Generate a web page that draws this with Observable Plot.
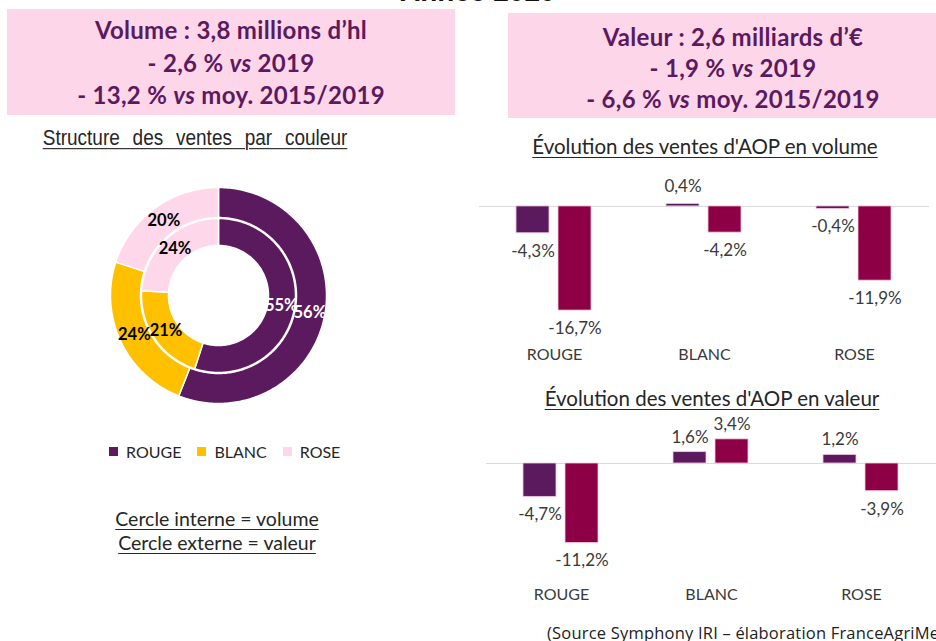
<!DOCTYPE html>
<html>
<head>
<meta charset="utf-8">
<script src="https://cdn.jsdelivr.net/npm/d3@7"></script>
<script src="https://cdn.jsdelivr.net/npm/@observablehq/plot@0.6"></script>
<style>
  html, body { margin: 0; padding: 0; background: #fff; }
  #page { position: relative; width: 936px; height: 641px; overflow: hidden; background: #fff; font-family: Lato, "Open Sans", sans-serif; }
  .abs { position: absolute; }
  .box { background: #FDD6EA; color: #5C1A5E; font-weight: bold; font-size: 24px; letter-spacing: 0.3px; text-align: center; box-sizing: border-box; }
  .box div { position: absolute; left: 0; right: 0; line-height: 24px; }
  .u { text-decoration: underline; text-underline-offset: 3px; text-decoration-thickness: 1px; white-space: nowrap; color: #262626; }
  .center { transform: translateX(-50%); text-align: center; }
</style>
</head>
<body>
<div id="page">
  <div class="abs" id="title" style="left:400px; top:-22px; font-family:'Liberation Sans', Arial, sans-serif; font-weight:bold; font-size:28px; line-height:28px; color:#111; white-space:nowrap;"></div>

  <div class="abs box" id="boxL" style="left:7px; top:9px; width:448px; height:106px;"></div>
  <div class="abs box" id="boxR" style="left:508px; top:13px; width:450px; height:105px;"></div>

  <div class="abs u" id="structTitle" style="left:195px; top:127px; transform:translateX(-50%) scaleY(1.12); font-family:'Liberation Sans', Arial, sans-serif; font-size:19px; word-spacing:7.5px; line-height:22px;"></div>
  <div class="abs" id="donut" style="left:108px; top:185px;"></div>
  <div class="abs" id="legend" style="left:109px; top:435px;"></div>
  <div class="abs u center" id="note1" style="left:217px; top:507px; font-size:19.5px; line-height:24px;"></div>
  <div class="abs u center" id="note2" style="left:217px; top:531px; font-size:19.5px; line-height:24px;"></div>

  <div class="abs u center" id="volTitle" style="left:705px; top:133px; font-size:20.5px; line-height:26px;"></div>
  <div class="abs" id="volChart" style="left:479px; top:170px;"></div>
  <div class="abs u center" id="valTitle" style="left:712px; top:385px; font-size:20.5px; line-height:26px;"></div>
  <div class="abs" id="valChart" style="left:486px; top:415px;"></div>

  <div class="abs" id="source" style="left:547px; top:621px; font-family:'Open Sans', sans-serif; font-size:16.5px; letter-spacing:0.2px; line-height:24px; color:#222; white-space:nowrap;"></div>
</div>
<script>
// ---------- Data ----------
const titleText = "Année 2020";
const volumeHeader = ["Volume : 3,8 millions d’hl", "- 2,6 % <i>vs</i> 2019", "- 13,2 % <i>vs</i> moy. 2015/2019"];
const valeurHeader = ["Valeur : 2,6 milliards d’€", "- 1,9 % <i>vs</i> 2019", "- 6,6 % <i>vs</i> moy. 2015/2019"];

const categories = ["ROUGE", "BLANC", "ROSE"];
const colorRange = ["#5C1A5E", "#FFC000", "#FFD7EA"];

// Structure des ventes (%)
const shareVolume = [55, 21, 24];   // cercle interne
const shareValeur = [56, 24, 20];   // cercle externe

// Évolution des ventes (%)
const series = ["vs 2019", "vs moy. 2015/2019"];
const seriesColors = ["#5C1A5E", "#8E0045"];
const volumeVs2019 = [-4.3, 0.4, -0.4];
const volumeVsMoy = [-16.7, -4.2, -11.9];
const valeurVs2019 = [-4.7, 1.6, 1.2];
const valeurVsMoy = [-11.2, 3.4, -3.9];

const sourceText = "(Source Symphony IRI – élaboration FranceAgriMer)";

// ---------- Text blocks ----------
document.getElementById("title").textContent = titleText;
function fillBox(id, lines, tops) {
  const el = document.getElementById(id);
  lines.forEach((l, i) => {
    const d = document.createElement("div");
    d.innerHTML = l;
    d.style.top = tops[i] + "px";
    el.appendChild(d);
  });
}
fillBox("boxL", volumeHeader, [9, 42, 74]);
fillBox("boxR", valeurHeader, [12, 43, 74]);
document.getElementById("structTitle").textContent = "Structure des ventes par couleur";
document.getElementById("note1").textContent = "Cercle interne = volume";
document.getElementById("note2").textContent = "Cercle externe = valeur";
document.getElementById("volTitle").textContent = "Évolution des ventes d'AOP en volume";
document.getElementById("valTitle").textContent = "Évolution des ventes d'AOP en valeur";
document.getElementById("source").textContent = sourceText;

// ---------- Donut ----------
const R_IN = [0.463, 0.713];
const R_OUT = [0.722, 1.0];
const pt = (r, deg) => { const a = deg * Math.PI / 180; return [r * Math.sin(a), r * Math.cos(a)]; };
function ringPolygon(r0, r1, a0, a1) {
  const n = Math.max(2, Math.ceil(a1 - a0));
  const outer = d3.range(n + 1).map(i => pt(r1, a0 + (a1 - a0) * i / n));
  const inner = d3.range(n + 1).map(i => pt(r0, a1 - (a1 - a0) * i / n));
  const ring = outer.concat(inner);
  ring.push(ring[0]);
  return ring;
}
function ringFeatures(shares, radii, ringName) {
  const ends = d3.cumsum(shares);
  return shares.map((v, i) => {
    const a0 = (ends[i] - v) * 3.6, a1 = ends[i] * 3.6;
    return {type: "Feature", properties: {cat: categories[i], ring: ringName, value: v, mid: (a0 + a1) / 2, rmid: (radii[0] + radii[1]) / 2},
      geometry: {type: "Polygon", coordinates: [ringPolygon(radii[0], radii[1], a0, a1)]}};
  });
}
const donutFeatures = ringFeatures(shareVolume, R_IN, "volume").concat(ringFeatures(shareValeur, R_OUT, "valeur"));
const donutLabels = donutFeatures.map(f => {
  const [x, y] = pt(f.properties.rmid, f.properties.mid);
  return {x, y, cat: f.properties.cat, text: f.properties.value + "%"};
});
const outline = {type: "Polygon", coordinates: [d3.range(0, 361, 1).map(a => pt(1, a))]};

const donut = Plot.plot({
  width: 220, height: 220, margin: 2,
  projection: {type: "reflect-y", domain: outline},
  color: {domain: categories, range: colorRange},
  style: {fontFamily: "Lato, sans-serif", fontSize: "16px", background: "transparent", overflow: "visible"},
  marks: [
    Plot.geo(donutFeatures, {fill: d => d.properties.cat, stroke: "white", strokeWidth: 1.5}),
    Plot.text(donutLabels.filter(d => d.cat === "ROUGE"), {x: "x", y: "y", text: "text", fill: "white", fontWeight: "bold", fontSize: 16.5}),
    Plot.text(donutLabels.filter(d => d.cat !== "ROUGE"), {x: "x", y: "y", text: "text", fill: "black", fontWeight: "bold", fontSize: 16.5})
  ]
});
document.getElementById("donut").appendChild(donut);

const legend = Plot.legend({
  color: {type: "categorical", domain: categories, range: colorRange},
  legend: "swatches", swatchSize: 9, swatchWidth: 9, swatchHeight: 9,
  style: {fontFamily: "Lato, sans-serif", fontSize: "16px", color: "#262626"}
});
document.getElementById("legend").appendChild(legend);

// ---------- Bar charts ----------
const fmt = v => v.toFixed(1).replace(".", ",") + "%";
function rowsOf(a, b) {
  return categories.flatMap((c, i) => [
    {cat: c, series: series[0], value: a[i]},
    {cat: c, series: series[1], value: b[i]}
  ]);
}
function barChart(rows, o) {
  const common = {fx: "cat", x: "series", y: "value", text: d => fmt(d.value), fontSize: 17, fill: "#3a3a3a"};
  return Plot.plot({
    width: o.width, height: o.height,
    marginTop: o.mt, marginBottom: o.mb, marginLeft: 0, marginRight: o.mr,
    fx: {domain: categories, padding: 0, axis: null},
    x: {domain: series, paddingInner: 0.21, paddingOuter: 0.85, axis: null},
    y: {domain: o.ydomain, axis: null},
    color: {domain: series, range: seriesColors},
    style: {fontFamily: "Lato, sans-serif", fontSize: "16px", color: "#3a3a3a", background: "transparent", overflow: "visible"},
    marks: [
      Plot.ruleY([0], {stroke: "#d9d9d9", strokeWidth: 1}),
      Plot.barY(rows, {fx: "cat", x: "series", y: "value", fill: "series", stroke: "#f3c8dc", strokeWidth: 0.8}),
      Plot.text(rows.filter(d => d.value < 0), {...common, dy: o.dyNeg}),
      Plot.text(rows.filter(d => d.value >= 0), {...common, dy: o.dyPos}),
      Plot.text(categories, {fx: d => d, text: d => d, frameAnchor: "bottom", lineAnchor: "middle", dy: o.dyCat, fontSize: 16, fill: "#3a3a3a"})
    ]
  });
}
document.getElementById("volChart").appendChild(barChart(rowsOf(volumeVs2019, volumeVsMoy), {
  width: 457, height: 200, mt: 11, mb: 45.6, mr: 7, ydomain: [-19, 4], dyNeg: 18, dyPos: -17, dyCat: 29.6
}));
document.getElementById("valChart").appendChild(barChart(rowsOf(valeurVs2019, valeurVsMoy), {
  width: 450, height: 180, mt: 12.5, mb: 39.7, mr: 0, ydomain: [-13, 5], dyNeg: 18, dyPos: -15, dyCat: 38.7
}));
</script>
</body>
</html>
